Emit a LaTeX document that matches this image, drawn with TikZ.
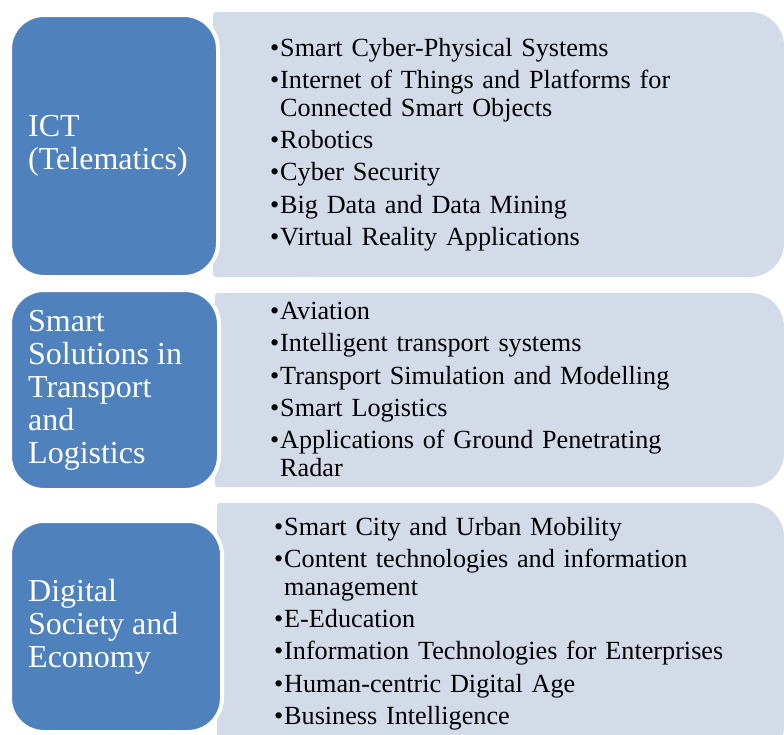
\documentclass[tikz,border=0pt]{standalone}
\usepackage{fontspec}
\setmainfont{Liberation Serif}
\usetikzlibrary{positioning}
\definecolor{areablue}{RGB}{79,129,189}
\definecolor{panelgray}{RGB}{211,219,233}
% one bullet line, wrapped lines hang under the text
\newcommand{\areaitem}[1]{\par\hangindent=10pt\hangafter=1\noindent\makebox[10pt][l]{\strut\textbullet}#1\par}

\begin{document}
\begin{tikzpicture}[x=1pt, y=-1pt,
    area/.style={fill=areablue, draw=white, line width=4pt, rounded corners=34pt, anchor=north west},
    areatext/.style={anchor=west, inner sep=0pt, align=left, text=white, font=\fontsize{32}{33}\selectfont},
    topics/.style={anchor=north west, inner sep=0pt, text width=500pt, font=\fontsize{26.2}{27.5}\selectfont,
        execute at begin node={\setlength{\parskip}{4.8pt}}}]
    \useasboundingbox (0,0) rectangle (784,734);
    % Panels behind
    \fill[panelgray, rounded corners=3pt] (213,12) rectangle (320,277);
    \fill[panelgray, rounded corners=34pt] (260,12) rectangle (784,277);
    \fill[panelgray, rounded corners=3pt] (215,293) rectangle (320,487);
    \fill[panelgray, rounded corners=34pt] (260,293) rectangle (784,487);
    \fill[panelgray, rounded corners=3pt] (217,503) rectangle (320,760);
    \fill[panelgray, rounded corners=34pt] (260,503) rectangle (784,760);
    % Areas
    \node[area, minimum width=208pt, minimum height=262pt] (ict) at (8,13) {};
    \node[area, minimum width=209pt, minimum height=200pt] (transport) at (8,288) {};
    \node[area, minimum width=212pt, minimum height=211pt] (society) at (8,519) {};
    \node[areatext] (ictlabel) at ([xshift=20pt]ict.west) {ICT\\(Telematics)};
    \node[areatext] (transportlabel) at ([xshift=20pt]transport.west) {Smart\\Solutions in\\Transport\\and\\Logistics};
    \node[areatext] (societylabel) at ([xshift=20pt]society.west) {Digital\\Society and\\Economy};
    % Topics
    \node[topics] (ictlist) at (270,24) {%
        \areaitem{Smart Cyber-Physical Systems}
        \areaitem{Internet of Things and Platforms for\newline Connected Smart Objects}
        \areaitem{Robotics}
        \areaitem{Cyber Security}
        \areaitem{Big Data and Data Mining}
        \areaitem{Virtual Reality Applications}};
    \node[topics] (transportlist) at (270,287) {%
        \areaitem{Aviation}
        \areaitem{Intelligent transport systems}
        \areaitem{Transport Simulation and Modelling}
        \areaitem{Smart Logistics}
        \areaitem{Applications of Ground Penetrating\newline Radar}};
    \node[topics] (societylist) at (274,503) {%
        \areaitem{Smart City and Urban Mobility}
        \areaitem{Content technologies and information\newline management}
        \areaitem{E-Education}
        \areaitem{Information Technologies for Enterprises}
        \areaitem{Human-centric Digital Age}
        \areaitem{Business Intelligence}};
\end{tikzpicture}
\end{document}
